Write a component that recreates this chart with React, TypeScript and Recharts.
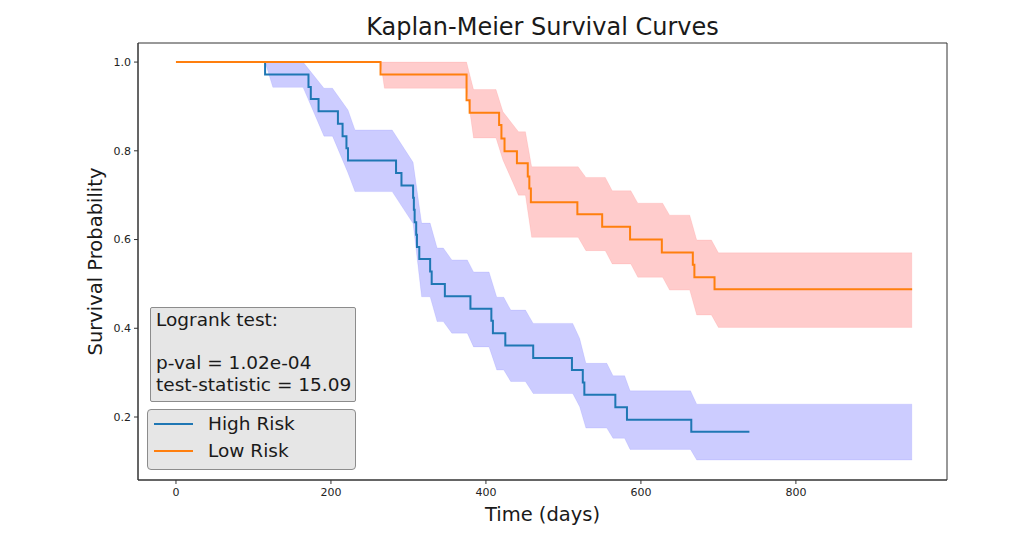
import React from "react";
import {
  ComposedChart,
  Line,
  Area,
  XAxis,
  YAxis,
  Label,
  Legend,
  ReferenceArea,
} from "recharts";

// Kaplan-Meier step curves (time in days, survival probability)
const highTimes = [0, 115, 171, 174, 184, 209, 215, 220, 222, 284, 291, 306, 307, 308, 310, 311, 314, 328, 330, 347, 380, 407, 409, 425, 461, 511, 525, 527, 567, 582, 665, 740];
const highSurv = [1.0, 0.972, 0.944, 0.917, 0.889, 0.861, 0.833, 0.806, 0.778, 0.75, 0.722, 0.694, 0.667, 0.639, 0.611, 0.583, 0.556, 0.528, 0.5, 0.472, 0.444, 0.417, 0.389, 0.361, 0.333, 0.306, 0.278, 0.25, 0.222, 0.194, 0.167, 0.167];

const lowTimes = [0, 264, 375, 379, 417, 420, 424, 440, 454, 456, 458, 518, 550, 586, 627, 667, 669, 695, 950];
const lowSurv = [1.0, 0.972, 0.914, 0.886, 0.858, 0.828, 0.799, 0.772, 0.742, 0.715, 0.684, 0.657, 0.629, 0.6, 0.571, 0.543, 0.515, 0.488, 0.488];

// confidence bands
const highBandTimes = [0, 115, 125, 164, 191, 202, 222, 231, 279, 306, 317, 328, 337, 345, 356, 376, 384, 404, 414, 423, 432, 451, 461, 512, 521, 529, 556, 564, 579, 586, 664, 672, 950];
const highBandUpper = [1, 1, 1, 1, 0.941, 0.941, 0.892, 0.847, 0.847, 0.774, 0.637, 0.637, 0.581, 0.581, 0.554, 0.554, 0.527, 0.527, 0.47, 0.47, 0.441, 0.441, 0.411, 0.411, 0.377, 0.321, 0.321, 0.293, 0.293, 0.259, 0.259, 0.229, 0.229];
const highBandLower = [1, 1, 0.943, 0.943, 0.833, 0.833, 0.75, 0.708, 0.708, 0.636, 0.471, 0.471, 0.415, 0.415, 0.389, 0.389, 0.358, 0.358, 0.306, 0.306, 0.28, 0.28, 0.253, 0.253, 0.223, 0.175, 0.175, 0.152, 0.152, 0.127, 0.127, 0.103, 0.103];

const lowBandTimes = [0, 264, 269, 375, 384, 413, 422, 442, 451, 459, 519, 529, 554, 563, 587, 596, 628, 637, 663, 672, 691, 700, 950];
const lowBandUpper = [1, 1, 1, 1, 0.938, 0.938, 0.888, 0.843, 0.843, 0.764, 0.764, 0.74, 0.74, 0.71, 0.71, 0.682, 0.682, 0.655, 0.655, 0.599, 0.599, 0.57, 0.57];
const lowBandLower = [1, 1, 0.941, 0.941, 0.829, 0.829, 0.779, 0.7, 0.7, 0.605, 0.605, 0.575, 0.575, 0.545, 0.545, 0.515, 0.515, 0.486, 0.486, 0.43, 0.43, 0.402, 0.402];

const xTicks = [0, 200, 400, 600, 800];
const yTicks = [0.2, 0.4, 0.6, 0.8, 1.0];
const xDomain = [-49, 995];
const yDomain = [0.058, 1.043];
const seriesNames = ["High Risk", "Low Risk"];
const logrankText = ["Logrank test:", "", "p-val = 1.02e-04", "test-statistic = 15.09"];

const highCurve = highTimes.map((t, i) => ({ t, s: highSurv[i] }));
const lowCurve = lowTimes.map((t, i) => ({ t, s: lowSurv[i] }));
const highBand = highBandTimes.map((t, i) => ({ t, ci: [highBandLower[i], highBandUpper[i]] }));
const lowBand = lowBandTimes.map((t, i) => ({ t, ci: [lowBandLower[i], lowBandUpper[i]] }));

const boxStyle: React.CSSProperties = {
  position: "absolute",
  background: "#e6e6e6",
  border: "1.5px solid #8c8c8c",
  color: "#1a1a1a",
  fontSize: 18.5,
  boxSizing: "border-box",
};

function KmLegend(props: any) {
  const items = (props.payload || []).filter((p: any) => p.type !== "none");
  return (
    <div style={{ ...boxStyle, position: "static", width: 209, height: 61, borderRadius: 4, paddingLeft: 6 }}>
      {items.map((p: any) => (
        <div key={p.value} style={{ display: "flex", alignItems: "center", height: 27.4 }}>
          <span style={{ display: "inline-block", width: 39, height: 2, background: p.color, marginRight: 15 }} />
          <span style={{ lineHeight: "27.4px" }}>{p.value}</span>
        </div>
      ))}
    </div>
  );
}

export default function App() {
  return (
    <div
      style={{
        position: "absolute",
        left: 0,
        top: 0,
        width: 1024,
        height: 534,
        background: "#fff",
        fontFamily: "'DejaVu Sans', sans-serif",
      }}
    >
      <div
        style={{
          position: "absolute",
          left: 138,
          width: 809,
          top: 15,
          textAlign: "center",
          fontSize: 24,
          lineHeight: "24px",
          color: "#1a1a1a",
        }}
      >
        Kaplan-Meier Survival Curves
      </div>

      <ComposedChart
        width={1024}
        height={534}
        margin={{ top: 43, right: 77, bottom: 24, left: 52 }}
      >
        <XAxis
          type="number"
          dataKey="t"
          domain={xDomain}
          ticks={xTicks}
          allowDataOverflow
          height={30}
          tickSize={4}
          tickMargin={4}
          tick={{ fill: "#222", fontSize: 11 }}
          tickLine={{ stroke: "#333" }}
          axisLine={{ stroke: "#333" }}
        >
          <Label value="Time (days)" position="bottom" offset={-3} style={{ fontSize: 19.5, fill: "#1a1a1a" }} />
        </XAxis>
        <YAxis
          type="number"
          domain={yDomain}
          ticks={yTicks}
          allowDataOverflow
          width={86}
          tickSize={4}
          tickMargin={3}
          tickFormatter={(v: number) => v.toFixed(1)}
          tick={{ fill: "#222", fontSize: 11 }}
          tickLine={{ stroke: "#333" }}
          axisLine={{ stroke: "#333" }}
        >
          <Label value="Survival Probability" angle={-90} position="center" style={{ fontSize: 19.5, fill: "#1a1a1a" }} />
        </YAxis>

        <Area
          data={highBand}
          dataKey="ci"
          type="linear"
          fill="#0000ff"
          fillOpacity={0.2}
          stroke="#0000ff"
          strokeOpacity={0.08}
          legendType="none"
          isAnimationActive={false}
          activeDot={false}
        />
        <Area
          data={lowBand}
          dataKey="ci"
          type="linear"
          fill="#ff0000"
          fillOpacity={0.2}
          stroke="#ff0000"
          strokeOpacity={0.08}
          legendType="none"
          isAnimationActive={false}
          activeDot={false}
        />
        <Line
          data={highCurve}
          dataKey="s"
          name={seriesNames[0]}
          type="stepAfter"
          stroke="#1f77b4"
          strokeWidth={2}
          dot={false}
          activeDot={false}
          isAnimationActive={false}
        />
        <Line
          data={lowCurve}
          dataKey="s"
          name={seriesNames[1]}
          type="stepAfter"
          stroke="#ff7f0e"
          strokeWidth={2}
          dot={false}
          activeDot={false}
          isAnimationActive={false}
        />
        <ReferenceArea
          x1={xDomain[0]}
          x2={xDomain[1]}
          y1={yDomain[0]}
          y2={yDomain[1]}
          fill="none"
          stroke="#333"
          strokeWidth={1}
          ifOverflow="visible"
        />
        <Legend
          layout="vertical"
          align="center"
          verticalAlign="middle"
          content={KmLegend}
          wrapperStyle={{ left: 147, top: 409, width: 209, height: 61, margin: 0 }}
        />
      </ComposedChart>

      <div
        style={{
          ...boxStyle,
          left: 150,
          top: 307,
          width: 206,
          height: 95,
          borderRadius: 2,
          paddingLeft: 5,
          paddingTop: 1,
          lineHeight: "21.6px",
          whiteSpace: "pre",
        }}
      >
        {logrankText.map((line, i) => (
          <div key={i}>{line || " "}</div>
        ))}
      </div>
    </div>
  );
}
